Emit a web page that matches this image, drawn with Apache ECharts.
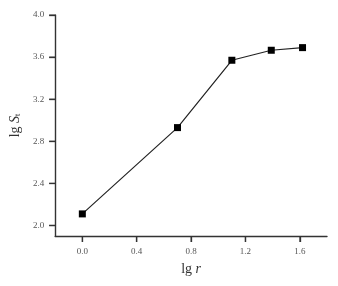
<!DOCTYPE html>
<html><head><meta charset="utf-8">
<script src="https://cdn.jsdelivr.net/npm/echarts@6/dist/echarts.min.js"></script>
<style>html,body{margin:0;padding:0;background:#fff}#c{width:338px;height:286px}</style>
</head><body><div id="c"></div>
<script>
const lgR = [0.0, 0.70, 1.10, 1.39, 1.62];
const lgSt = [2.11, 2.93, 3.57, 3.665, 3.69];
const xTicks = [0.0, 0.4, 0.8, 1.2, 1.6];
const yTicks = [2.0, 2.4, 2.8, 3.2, 3.6, 4.0];
const xMin = -0.2, xMax = 1.8, yMin = 1.9, yMax = 4.0;

const chart = echarts.init(document.getElementById('c'));
const axisStyle = {color:'#333', width:1.4};
const tickStyle = {color:'#333', width:1.3};
chart.setOption({
  animation:false,
  grid:{left:53, right:11, top:15, bottom:50},
  xAxis:{type:'value', min:xMin, max:xMax,
    name:'{a|lg }{i|r}', nameLocation:'middle', nameGap:26,
    nameTextStyle:{rich:{a:{fontFamily:'Liberation Serif',fontSize:14,color:'#333'},i:{fontFamily:'Liberation Serif',fontStyle:'italic',fontSize:14,color:'#333'}}},
    axisLine:{onZero:false, lineStyle:axisStyle}, splitLine:{show:false},
    axisTick:{show:true, length:6, lineStyle:tickStyle, customValues:xTicks},
    axisLabel:{customValues:xTicks, formatter:v=>v.toFixed(1), fontFamily:'Liberation Serif', fontSize:9, color:'#555', margin:11}
  },
  yAxis:{type:'value', min:yMin, max:yMax,
    name:'{a|lg }{i|S}{s|t}', nameLocation:'middle', nameGap:31, nameRotate:90,
    nameTextStyle:{rich:{a:{fontFamily:'Liberation Serif',fontSize:14,color:'#333'},i:{fontFamily:'Liberation Serif',fontStyle:'italic',fontSize:14,color:'#333'},s:{fontFamily:'Liberation Serif',fontSize:8,color:'#333',verticalAlign:'bottom',padding:[6,0,0,0]}}},
    axisLine:{show:true, onZero:false, lineStyle:axisStyle}, splitLine:{show:false},
    axisTick:{show:true, length:6, lineStyle:tickStyle, customValues:yTicks},
    axisLabel:{customValues:yTicks, formatter:v=>v.toFixed(1), fontFamily:'Liberation Serif', fontSize:9, color:'#555', margin:11}
  },
  series:[
    {type:'scatter', silent:true, clip:false, data:xTicks.map(v=>[v,yMin]),
      symbol:'rect', symbolSize:[1.3,6], symbolOffset:[0,3], itemStyle:{color:'#333'}, z:5},
    {type:'scatter', silent:true, clip:false, data:yTicks.map(v=>[xMin,v]),
      symbol:'rect', symbolSize:[6,1.3], symbolOffset:[-3,0], itemStyle:{color:'#333'}, z:5},
    {type:'line', data:lgR.map((x,i)=>[x,lgSt[i]]),
    symbol:'rect', symbolSize:7, itemStyle:{color:'#000'},
    lineStyle:{color:'#222', width:1.2}, z:3}]
});
</script></body></html>
